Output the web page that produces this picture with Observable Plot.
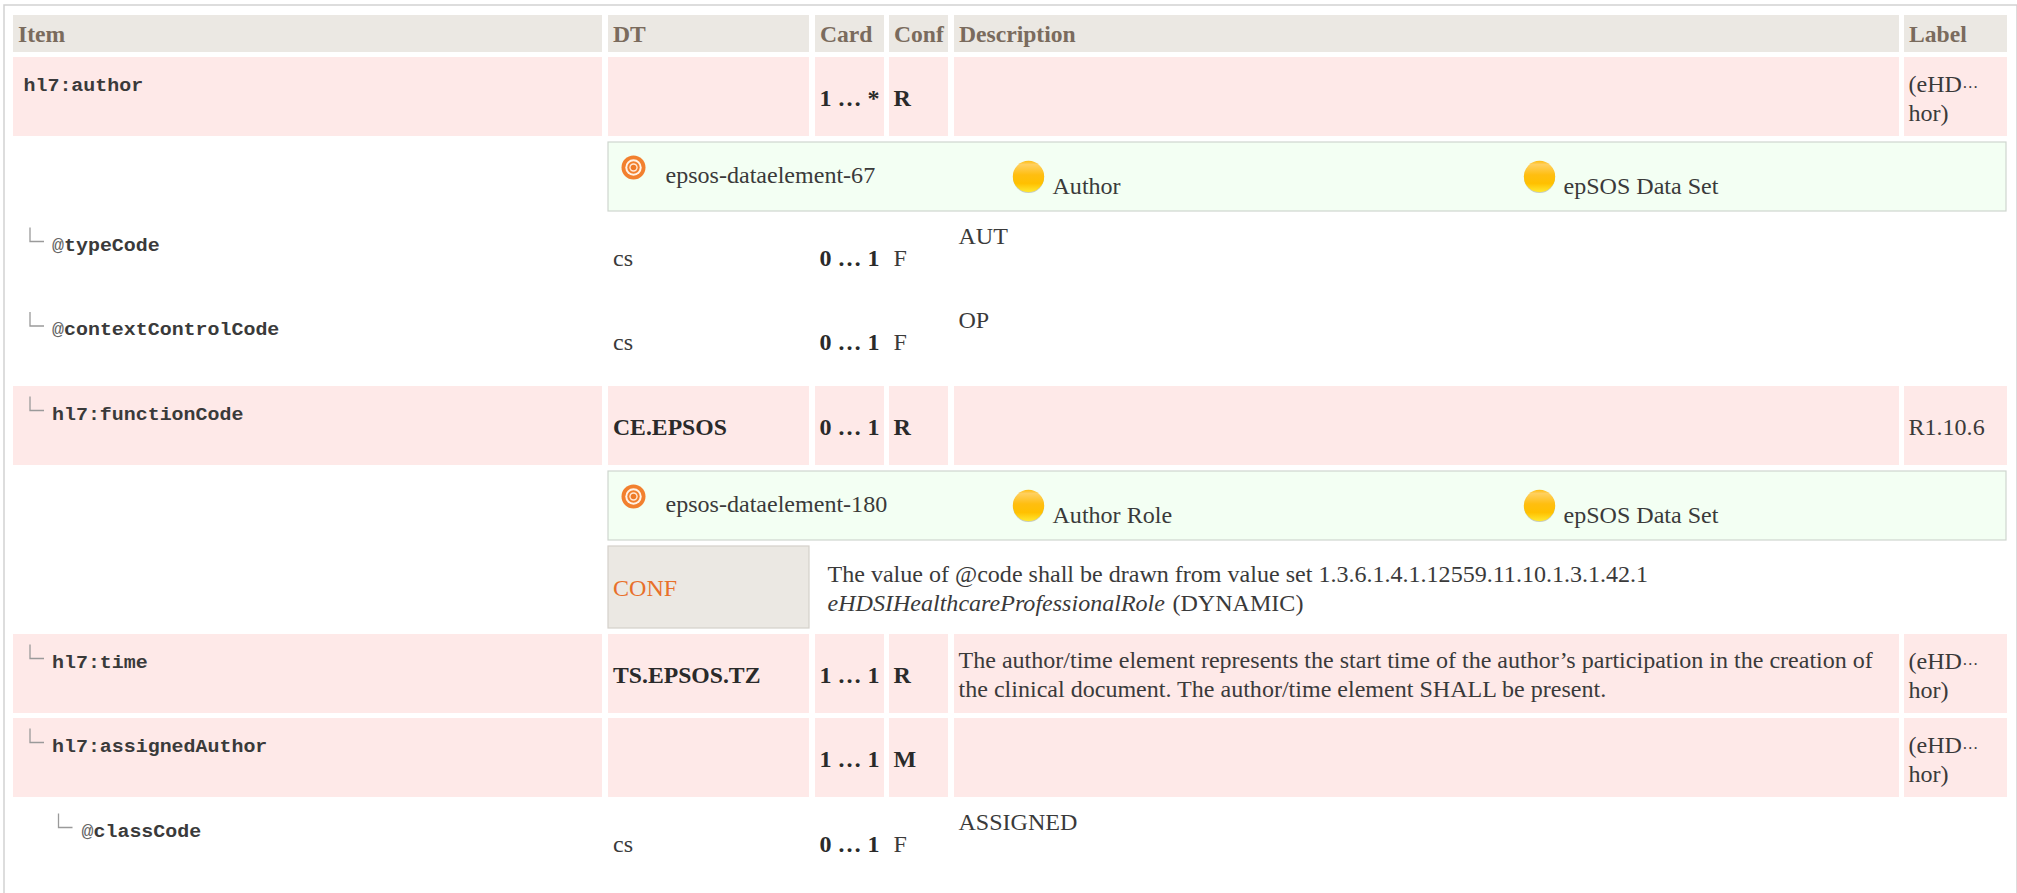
<!DOCTYPE html>
<html>
<head>
<meta charset="utf-8">
<script src="https://cdn.jsdelivr.net/npm/d3@7"></script>
<script src="https://cdn.jsdelivr.net/npm/@observablehq/plot@0.6"></script>
<style>
html,body{margin:0;padding:0;background:#fff;overflow:hidden}
svg{display:block}
</style>
</head>
<body>
<script>
// ---- table content ----
const columns = ["Item", "DT", "Card", "Conf", "Description", "Label"];
const itemNames = ["hl7:author", "typeCode", "contextControlCode", "hl7:functionCode", "hl7:time", "hl7:assignedAuthor", "classCode"];
const itemRows = [1, 3, 4, 5, 8, 9, 10];
const itemLevels = [0, 1, 1, 1, 1, 1, 2];
const itemIsAttribute = [false, true, true, false, false, false, true];
const itemTypes = ["", "cs", "cs", "CE.EPSOS", "TS.EPSOS.TZ", "", "cs"];
const itemCards = ["1 … *", "0 … 1", "0 … 1", "0 … 1", "1 … 1", "1 … 1", "0 … 1"];
const itemConf = ["R", "F", "F", "R", "R", "M", "F"];
const fixedValues = [[3, "AUT"], [4, "OP"], [10, "ASSIGNED"]];
const labels = [[1, "(eHD\nhor)"], [8, "(eHD\nhor)"], [9, "(eHD\nhor)"]];
const labelEllipsis = "…";
const singleLabels = [[5, "R1.10.6"]];
const timeDescription = "The author/time element represents the start time of the author’s participation in the creation of\nthe clinical document. The author/time element SHALL be present.";
const conceptRows = [2, 6];
const conceptIds = ["epsos-dataelement-67", "epsos-dataelement-180"];
const conceptNames = ["Author", "Author Role"];
const conceptSet = "epSOS Data Set";
const confRow = 7;
const confLabel = "CONF";
const confLine1 = "The value of @code shall be drawn from value set 1.3.6.1.4.1.12559.11.10.1.3.1.42.1";
const confLine2Italic = "eHDSIHealthcareProfessionalRole";
const confLine2Rest = "(DYNAMIC)";

// ---- table layout: scale knots (column / row start and end) ----
const colStart = [13, 608, 815, 889, 954, 1904];
const colEnd = [602, 809, 884, 948, 1899, 2007];
const rowTop = [15, 57, 142, 217, 301.5, 386, 471, 546, 634, 718, 803];
const rowBottom = [52, 136, 211, 296, 380.5, 465, 540, 628, 713, 797, 882];
const END = 0.9;
const knots = (starts, ends) => ({
  domain: starts.flatMap((_, i) => [i, i + END]),
  range: starts.flatMap((s, i) => [s, ends[i]]),
  type: "linear", axis: null
});

const items = itemNames.map((name, i) => ({
  name, row: itemRows[i], level: itemLevels[i], attr: itemIsAttribute[i],
  dt: itemTypes[i], card: itemCards[i], conf: itemConf[i]
}));
const pinkRows = items.filter(d => !d.attr);
const pinkCells = pinkRows.flatMap(d => columns.map((_, c) => ({row: d.row, col: c})));

const SERIF = "Liberation Serif", MONO = "Liberation Mono";
const INK = "#3a3a3a", DARK = "#2a2a2a";
const FS = 24.05;
const base = {fontFamily: SERIF, fontSize: FS, textAnchor: "start", lineAnchor: "bottom", fill: INK};
const LINE = 29 / FS;
const PAD = 4;

const levelX = [10, 38.5, 68];
const levelConnector = [0, 16.5, 45];

const connector = {
  draw(ctx, size) {
    ctx.moveTo(0, 0); ctx.lineTo(0, 14); ctx.lineTo(14, 14);
  }
};

// The monospaced item names are wider than tall in the reference.
function widen(index, scales, values, dims, ctx, next) {
  const g = next(index, scales, values, dims, ctx);
  d3.select(g).selectAll("text").attr("transform", function () {
    return (this.getAttribute("transform") || "") + " scale(1.14,1)";
  });
  return g;
}

function itemMarks(level) {
  const rows = items.filter(d => d.level === level);
  const mono = {fontFamily: MONO, fontSize: 17.5, textAnchor: "start", lineAnchor: "bottom", render: widen};
  const plain = rows.filter(d => !d.attr), attrs = rows.filter(d => d.attr);
  return [
    Plot.text(plain, {...mono, x: 0, y: "row", text: "name", dx: levelX[level], dy: 33, fontWeight: "bold", fill: "#3a3a3a"}),
    Plot.text(attrs, {...mono, x: 0, y: "row", text: () => "@", dx: levelX[level], dy: 33, fill: "#666"}),
    Plot.text(attrs, {...mono, x: 0, y: "row", text: "name", dx: levelX[level] + 12, dy: 33, fontWeight: "bold", fill: "#3a3a3a"})
  ];
}

const chart = Plot.plot({
  width: 2017,
  height: 893,
  margin: 0,
  style: {background: "#fff", color: INK},
  x: knots(colStart, colEnd),
  y: knots(rowTop, rowBottom),
  marks: [
    () => {
      const defs = d3.create("svg:defs");
      const g = defs.append("linearGradient").attr("id", "ball").attr("x1", 0).attr("y1", 0).attr("x2", 0).attr("y2", 1);
      [[0, "#ffbc10"], [0.12, "#ffd060"], [0.45, "#ffbe10"], [0.72, "#ffc000"], [1, "#ffe830"]]
        .forEach(([o, c]) => g.append("stop").attr("offset", o).attr("stop-color", c));
      return defs.node();
    },
    Plot.frame({stroke: "#d2d2d2", strokeWidth: 1.5, insetLeft: 3.5, insetTop: 4.5, insetRight: 0.5, insetBottom: -6}),

    // header
    Plot.rect(columns, {x1: (_, i) => i, x2: (_, i) => i + END, y1: 0, y2: END, fill: "#ebe8e3"}),
    Plot.text(columns, {...base, fontSize: 23.6, x: (_, i) => i, y: 0, text: d => d, dx: (PAD + 0.5), dy: 26.5, fontWeight: "bold", fill: "#7a6b5d"}),

    // highlighted rows
    Plot.rect(pinkCells, {x1: "col", x2: d => d.col + END, y1: "row", y2: d => d.row + END, fill: "#fee9e8"}),

    // concept rows
    Plot.rect(conceptRows, {x1: 1, x2: 5 + END, y1: d => d, y2: d => d + END, insetRight: 1, fill: "#f3fff3", stroke: "#cfd6cf", strokeWidth: 1.2}),
    Plot.dot(conceptRows, {x: 1, y: d => d, dx: 25, dy: 25, r: 12, fill: "#f2802e"}),
    Plot.dot(conceptRows, {x: 1, y: d => d, dx: 25, dy: 25, r: 8.2, fill: "#fff2e6"}),
    Plot.dot(conceptRows, {x: 1, y: d => d, dx: 25, dy: 25, r: 6.2, fill: "#f2802e"}),
    Plot.dot(conceptRows, {x: 1, y: d => d, dx: 25, dy: 25, r: 4.2, fill: "#ffe8d6"}),
    Plot.dot(conceptRows, {x: 1, y: d => d, dx: 25, dy: 25, r: 2.8, fill: "#ee7a28"}),
    Plot.text(conceptIds, {...base, x: 1, y: (_, i) => conceptRows[i], text: d => d, dx: 57, dy: 40}),
    ...[420, 931].flatMap(dx => [
      Plot.dot(conceptRows, {x: 1, y: d => d, dx, dy: 35, r: 15.5, fill: "#a8a8a0", fillOpacity: 0.6}),
      Plot.dot(conceptRows, {x: 1, y: d => d, dx, dy: 34, r: 15.7, fill: "url(#ball)"})
    ]),
    Plot.text(conceptNames, {...base, x: 1, y: (_, i) => conceptRows[i], text: d => d, dx: 444, dy: 51}),
    Plot.text(conceptRows, {...base, x: 1, y: d => d, text: () => conceptSet, dx: 955, dy: 51}),

    // conformance row
    Plot.rect([confRow], {x1: 1, x2: 1 + END, y1: d => d, y2: d => d + END, fill: "#ebe8e3", stroke: "#d4d0ca", strokeWidth: 1.2}),
    Plot.text([confLabel], {...base, x: 1, y: confRow, text: d => d, dx: 4.5, dy: 49, fill: "#e8702a"}),
    Plot.text([confLine1], {...base, x: 1, y: confRow, text: d => d, dx: 219, dy: 35}),
    Plot.text([confLine2Italic], {...base, x: 1, y: confRow, text: d => d, dx: 219, dy: 64, fontStyle: "italic"}),
    Plot.text([confLine2Rest], {...base, x: 1, y: confRow, text: d => d, dx: 564, dy: 64}),

    // tree connectors
    ...[1, 2].map(level => Plot.dot(items.filter(d => d.level === level), {
      x: 0, y: "row", dx: levelConnector[level], dy: 10, symbol: connector, r: 5,
      fill: "none", stroke: "#9a9a9a", strokeWidth: 1.3
    })),

    // item column
    ...[0, 1, 2].flatMap(itemMarks),

    // DT, Card, Conf
    Plot.text(items.filter(d => !d.attr), {...base, fontSize: 23.7, x: 1, y: "row", text: "dt", dx: 4.5, dy: 48, fontWeight: "bold", fill: DARK}),
    Plot.text(items.filter(d => d.attr), {...base, x: 1, y: "row", text: "dt", dx: 4.5, dy: 48}),
    Plot.text(items, {...base, x: 2, y: "row", text: "card", dx: PAD, dy: 48, fontWeight: "bold", fill: DARK}),
    Plot.text(items.filter(d => !d.attr), {...base, x: 3, y: "row", text: "conf", dx: PAD, dy: 48, fontWeight: "bold", fill: DARK}),
    Plot.text(items.filter(d => d.attr), {...base, x: 3, y: "row", text: "conf", dx: PAD, dy: 48}),

    // Description
    Plot.text(fixedValues, {...base, x: 4, y: d => d[0], text: d => d[1], dx: PAD, dy: 26}),
    Plot.text([timeDescription], {...base, x: 4, y: 8, text: d => d, dx: PAD, dy: 62, lineHeight: LINE}),

    // Label
    Plot.text(labels, {...base, x: 5, y: d => d[0], text: d => d[1], dx: PAD, dy: 63, lineHeight: 28.5 / FS}),
    Plot.text(labels, {...base, fontSize: 16, x: 5, y: d => d[0], text: () => labelEllipsis, dx: 57.7, dy: 30}),
    Plot.text(singleLabels, {...base, x: 5, y: d => d[0], text: d => d[1], dx: PAD, dy: 48})
  ]
});
document.body.appendChild(chart);
</script>
</body>
</html>
